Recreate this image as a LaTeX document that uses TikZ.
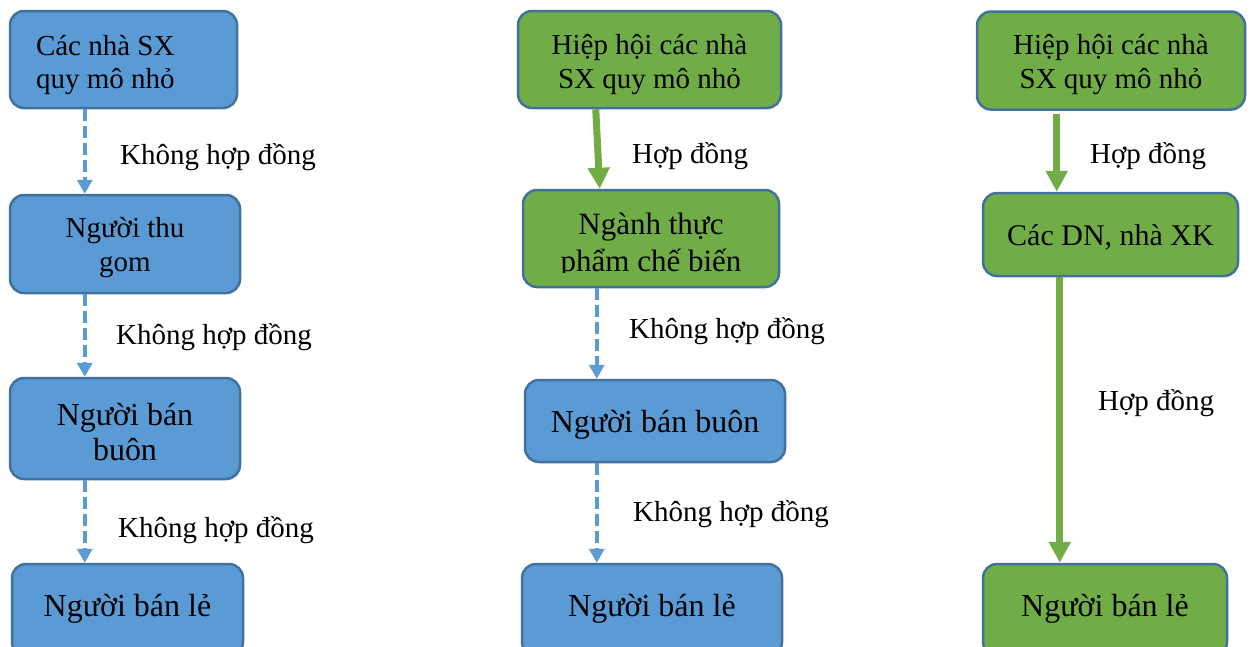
\documentclass[tikz,border=0pt]{standalone}
\usepackage{fontspec}
\setmainfont{Liberation Serif}
\usetikzlibrary{arrows.meta}
\definecolor{boxblue}{HTML}{5B9BD5}
\definecolor{boxgreen}{HTML}{70AD47}
\definecolor{edgeblue}{HTML}{41719C}
\newcommand{\fsA}{\fontsize{29pt}{33pt}\selectfont}
\newcommand{\fsB}{\fontsize{32pt}{35pt}\selectfont}
\newcommand{\fsC}{\fontsize{31pt}{37pt}\selectfont}
% invisible struts that fix the height of a first line / depth of a last line
\newcommand{\linetop}[1]{\rule{0pt}{#1pt}}
\newcommand{\linebot}[1]{\rule[-#1pt]{0pt}{#1pt}}

\begin{document}
\begin{tikzpicture}[x=1pt,y=-1pt,
  flowbox/.style={draw=edgeblue, line width=2.5pt, rounded corners=14pt,
                  inner sep=0pt, align=center, font=\fsA},
  bluebox/.style={flowbox, fill=boxblue},
  greenbox/.style={flowbox, fill=boxgreen},
  dasharr/.style={draw=boxblue, line width=4pt, dash pattern=on 12pt off 5pt,
                  -{Triangle[width=15pt,length=14pt]}},
  greenarr/.style={draw=boxgreen, line width=7pt,
                   -{Triangle[width=21pt,length=21pt]}},
  lbl/.style={anchor=base west, inner sep=0pt, font=\fsA}]

\useasboundingbox (0,0) rectangle (1251,646);
\clip (0,0) rectangle (1251,646);

% ---- chain 1: no contracts ----
\node[bluebox, minimum width=227pt, minimum height=97pt, text width=175pt, align=flush left]
  (a1) at (123.5,59.5) {\linetop{36}Các nhà SX\\quy mô nhỏ\linebot{12}};
\node[bluebox, minimum width=230pt, minimum height=98pt, font=\fontsize{29pt}{34pt}\selectfont]
  (b1) at (125,244) {\linetop{33}Người thu\\gom\linebot{12}};
\node[bluebox, minimum width=230pt, minimum height=101pt, font=\fsB]
  (c1) at (125,428.5) {\linetop{40}Người bán\\buôn\linebot{12}};
\node[bluebox, minimum width=231pt, minimum height=92pt, font=\fsB]
  (d1) at (127.5,610) {\linetop{33}Người bán lẻ\linebot{20}};

% ---- chain 2: association and processing industry ----
\node[greenbox, minimum width=263pt, minimum height=97pt, font=\fontsize{29pt}{33.5pt}\selectfont]
  (a2) at (649.5,59.5) {\linetop{35.5}Hiệp hội các nhà\\SX quy mô nhỏ\linebot{12}};
\node[greenbox, minimum width=256pt, minimum height=97pt] (b2) at (651,238.5) {};
\begin{scope}
  \clip (b2.north west) rectangle ([yshift=16pt]b2.south east);
  \node[font=\fsC, align=center, inner sep=0pt] (b2text) at (651,246) {Ngành thực\\phẩm chế biến};
\end{scope}
\node[bluebox, minimum width=260pt, minimum height=82pt, font=\fsB]
  (c2) at (655,421) {\linetop{34.6}Người bán buôn\linebot{12}};
\node[bluebox, minimum width=260pt, minimum height=92pt, font=\fsB]
  (d2) at (652,610) {\linetop{33}Người bán lẻ\linebot{20}};

% ---- chain 3: association and exporters ----
\node[greenbox, minimum width=268pt, minimum height=98pt, font=\fontsize{29pt}{33.5pt}\selectfont]
  (a3) at (1111,60.5) {\linetop{33.5}Hiệp hội các nhà\\SX quy mô nhỏ\linebot{12}};
\node[greenbox, minimum width=255pt, minimum height=83pt, font=\fontsize{30pt}{34pt}\selectfont]
  (b3) at (1110.5,234.5) {\linetop{33}Các DN, nhà XK\linebot{12}};
\node[greenbox, minimum width=244pt, minimum height=92pt, font=\fsB]
  (d3) at (1105,610) {\linetop{33}Người bán lẻ\linebot{20}};

% ---- connectors ----
\draw[dasharr] ([xshift=76pt]a1.south west) -- ([xshift=76pt]a1.south west |- b1.north);
\draw[dasharr] ([xshift=76pt]b1.south west) -- ([xshift=76pt]b1.south west |- c1.north);
\draw[dasharr] ([xshift=76pt]c1.south west) -- ([xshift=76pt]c1.south west |- d1.north);

\draw[greenarr] ([xshift=79pt]a2.south west) -- ([xshift=78pt]b2.north west);
\draw[dasharr] ([xshift=75pt]b2.south west) -- ([xshift=75pt]b2.south west |- c2.north);
\draw[dasharr] ([xshift=73pt]c2.south west) -- ([xshift=73pt]c2.south west |- d2.north);

\draw[greenarr] ([xshift=81pt,yshift=-3pt]a3.south west) -- ([xshift=81pt]a3.south west |- b3.north);
\draw[greenarr] ([xshift=78pt]b3.south west) -- ([xshift=78pt]b3.south west |- d3.north);

% ---- connector labels ----
\node[lbl] (l1) at (120,164) {Không hợp đồng};
\node[lbl] (l2) at (116,344) {Không hợp đồng};
\node[lbl] (l3) at (118,537) {Không hợp đồng};
\node[lbl] (l4) at (632,163) {Hợp đồng};
\node[lbl] (l5) at (629,338) {Không hợp đồng};
\node[lbl] (l6) at (633,521) {Không hợp đồng};
\node[lbl] (l7) at (1090,163) {Hợp đồng};
\node[lbl] (l8) at (1098,410) {Hợp đồng};
\end{tikzpicture}
\end{document}
